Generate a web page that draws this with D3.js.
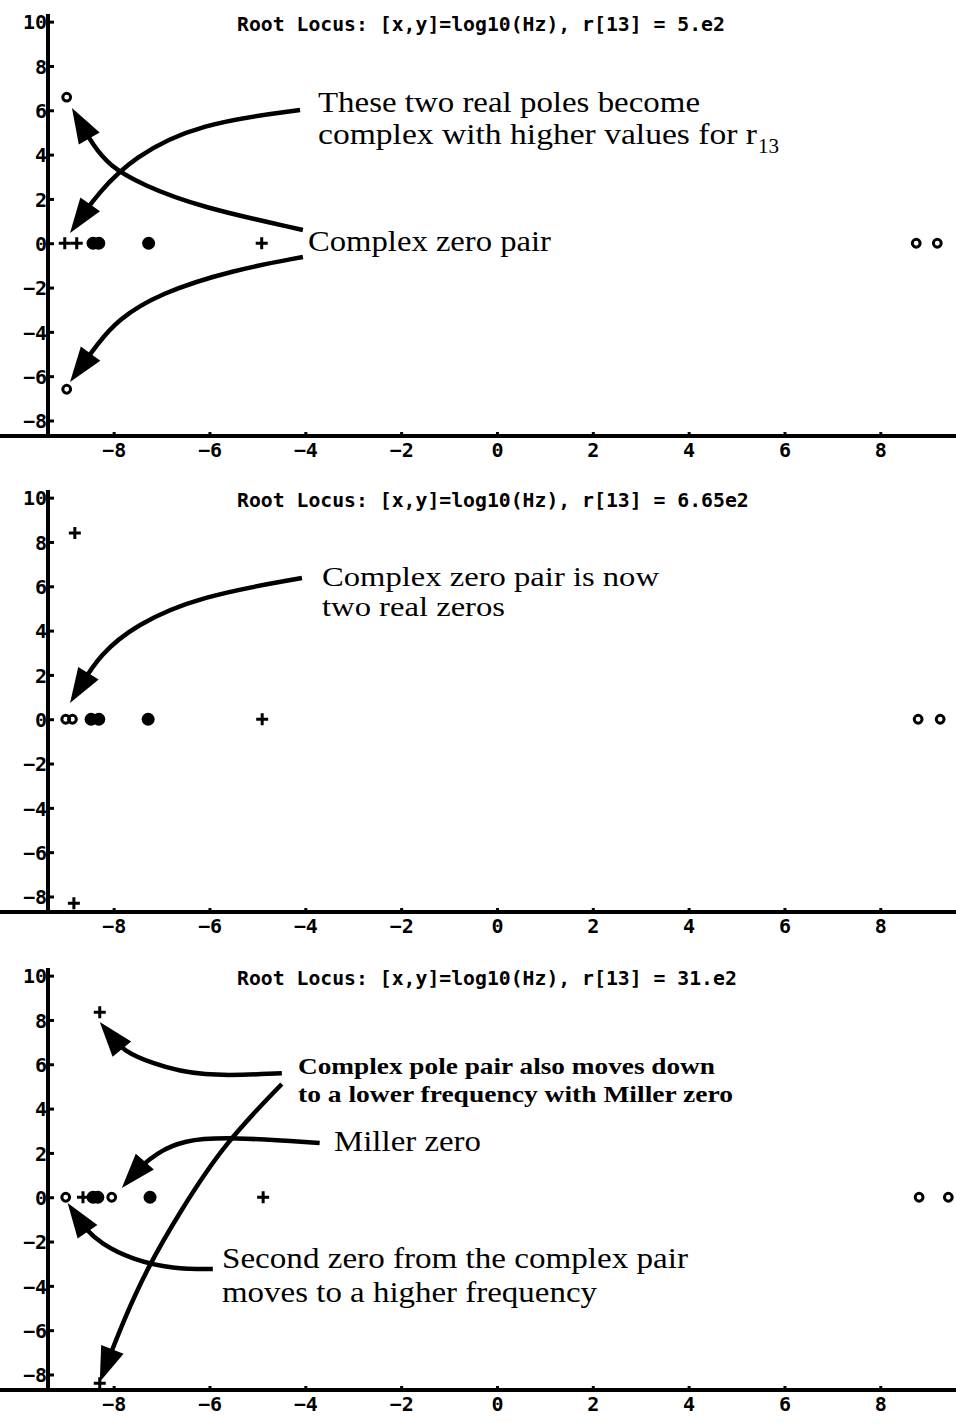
<!DOCTYPE html>
<html><head><meta charset="utf-8">
<script src="https://cdn.jsdelivr.net/npm/d3@7"></script>
<style>body{margin:0;background:#fff}svg{display:block}</style>
</head><body>
<script>
// ---- data ----
const xTicks = [-8,-6,-4,-2,0,2,4,6,8];
const yTicks = [-8,-6,-4,-2,0,2,4,6,8,10];
const titles = [
  "Root Locus: [x,y]=log10(Hz), r[13] = 5.e2",
  "Root Locus: [x,y]=log10(Hz), r[13] = 6.65e2",
  "Root Locus: [x,y]=log10(Hz), r[13] = 31.e2"
];
// poles (+), open-circle zeros, filled dots, per panel: [re, im] in log10(Hz)
const poles1 = [[-9.02,0],[-8.77,0],[-4.91,0]];
const zeros1 = [[-8.98,6.59],[-8.98,-6.59],[8.75,0],[9.19,0]];
const dots1  = [[-8.43,0],[-8.31,0],[-7.27,0]];
const poles2 = [[-8.81,8.4],[-8.83,-8.3],[-4.9,0]];
const zeros2 = [[-9.0,0],[-8.86,0],[8.79,0],[9.25,0]];
const dots2  = [[-8.47,0],[-8.31,0],[-7.28,0]];
const poles3 = [[-8.29,8.35],[-8.29,-8.39],[-8.64,0],[-4.88,0]];
const zeros3 = [[-9.0,0],[-8.04,0],[8.81,0],[9.42,0]];
const dots3  = [[-8.43,0],[-8.33,0],[-7.24,0]];
// annotation arrows (data coords, last point = tip)
const arrows1 = [
  [[-4.11,6.01],[-6.20,5.42],[-7.60,3.89],[-8.35,2.18],[-8.91,0.46]],
  [[-4.05,0.60],[-6.20,1.63],[-7.40,2.63],[-8.10,3.50],[-8.45,4.50],[-8.87,6.10]],
  [[-4.05,-0.62],[-5.51,-1.21],[-7.04,-2.25],[-7.93,-3.47],[-8.35,-4.59],[-8.91,-6.26]]
];
const arrows2 = [
  [[-4.07,6.37],[-6.20,5.56],[-7.56,4.25],[-8.29,2.90],[-8.91,0.73]]
];
const arrows3 = [
  [[-4.49,5.60],[-6.20,5.42],[-7.24,6.06],[-7.81,6.64],[-8.29,7.91]],
  [[-4.49,5.11],[-5.70,2.40],[-6.60,-0.60],[-7.30,-3.20],[-7.80,-5.60],[-8.29,-8.34]],
  [[-3.70,2.45],[-5.57,2.72],[-6.56,2.58],[-7.10,1.99],[-7.45,1.36],[-7.83,0.42]],
  [[-5.93,-3.24],[-6.76,-3.24],[-7.60,-2.83],[-8.29,-2.07],[-8.60,-1.39],[-8.96,-0.26]]
];
// annotation texts: [text, x(px), baseline(px in panel), width, size, bold]
const notes1 = [
  ["These two real poles become",318,112,382,29,false],
  ["complex with higher values for r",318,144,439,29,false],
  ["Complex zero pair",308,251,243,30,false]
];
const notes2 = [
  ["Complex zero pair is now",322,110,337,28,false],
  ["two real zeros",322,140,183,28,false]
];
const notes3 = [
  ["Complex pole pair also moves down",298,120,417,24,true],
  ["to a lower frequency with Miller zero",298,148,435,24,true],
  ["Miller zero",334,197,147,30,false],
  ["Second zero from the complex pair",222,314,466,29,false],
  ["moves to a higher frequency",222,348,375,29,false]
];
const panels = [
  {off:0,   poles:poles1, zeros:zeros1, dots:dots1, arrows:arrows1, notes:notes1, sub:true},
  {off:476, poles:poles2, zeros:zeros2, dots:dots2, arrows:arrows2, notes:notes2},
  {off:954, poles:poles3, zeros:zeros3, dots:dots3, arrows:arrows3, notes:notes3}
];

// ---- drawing ----
const W = 956, H = 1423;
const svg = d3.select("body").append("svg").attr("width",W).attr("height",H);
const x = d3.scaleLinear().domain([-9.37, 9.58]).range([48, 956]);
const y = d3.scaleLinear().domain([-8.7, 10.3]).range([436, 15]);
const mono = "'DejaVu Sans Mono', monospace";
const serif = "'Liberation Serif', 'Times New Roman', Times, serif";
const line = d3.line().x(d=>x(d[0])).y(d=>y(d[1])).curve(d3.curveBasis);

panels.forEach((p,i)=>{
  const g = svg.append("g").attr("transform",`translate(0,${p.off})`);
  // title
  g.append("text").attr("x",237).attr("y",31)
    .attr("font-family",mono).attr("font-weight","bold").attr("font-size",20)
    .attr("textLength", titles[i].length*11.9).attr("lengthAdjust","spacingAndGlyphs")
    .text(titles[i]);
  // axes
  const xa = g.append("g").attr("transform",`translate(0,${y(-8.7)})`)
    .call(d3.axisBottom(x).tickValues(xTicks).tickSize(-4).tickPadding(10).tickFormat(d3.format("d")));
  const ya = g.append("g").attr("transform",`translate(${x(-9.37)},0)`)
    .call(d3.axisLeft(y).tickValues(yTicks).tickSize(-6).tickPadding(2).tickFormat(d3.format("d")));
  [xa,ya].forEach(a=>{
    a.select(".domain").attr("stroke","#000").attr("stroke-width",4);
    a.selectAll(".tick line").attr("stroke","#000").attr("stroke-width",3);
    a.selectAll(".tick text").attr("font-family",mono).attr("font-weight","bold")
      .attr("font-size",20).attr("fill","#000");
  });
  ya.select(".domain").attr("d",`M0,${y(10.35)}V${y(-8.7)}`);
  xa.select(".domain").attr("d",`M0,0H${W}`);
  xa.selectAll(".tick text").attr("dy","0.55em");
  ya.selectAll(".tick text").attr("dy","0.36em").attr("x",-1);
  ya.selectAll(".tick line").attr("x1",-2).attr("x2",6);

  // markers
  g.selectAll(".dot").data(p.dots).join("circle")
    .attr("cx",d=>x(d[0])).attr("cy",d=>y(d[1])).attr("r",6.5).attr("fill","#000");
  g.selectAll(".zero").data(p.zeros).join("circle")
    .attr("cx",d=>x(d[0])).attr("cy",d=>y(d[1])).attr("r",3.9)
    .attr("fill","none").attr("stroke","#000").attr("stroke-width",3);
  g.selectAll(".pole").data(p.poles).join("path")
    .attr("d",d=>`M${x(d[0])-6},${y(d[1])}h12M${x(d[0])},${y(d[1])-6}v12`)
    .attr("stroke","#000").attr("stroke-width",3);

  // arrows
  p.arrows.forEach(pts=>{
    const tip = pts[pts.length-1], prev = pts[pts.length-2];
    const tx = x(tip[0]), ty = y(tip[1]);
    const px = x(prev[0]), py = y(prev[1]);
    let dx = tx-px, dy = ty-py; const L = Math.hypot(dx,dy); dx/=L; dy/=L;
    const hl = 35, hw = 12;
    const bx = tx-dx*hl, by = ty-dy*hl;
    const basePt = [x.invert(tx-dx*hl*0.6), y.invert(ty-dy*hl*0.6)];
    const body = pts.slice(0,-1).concat([basePt]);
    g.append("path").attr("d",line(body)).attr("fill","none")
      .attr("stroke","#000").attr("stroke-width",4.5).attr("stroke-linecap","butt");
    g.append("path")
      .attr("d",`M${tx},${ty}L${bx-dy*hw},${by+dx*hw}L${bx+dy*hw},${by-dx*hw}Z`)
      .attr("fill","#000");
  });

  // notes
  p.notes.forEach(n=>{
    g.append("text").attr("x",n[1]).attr("y",n[2])
      .attr("font-family",serif).attr("font-size",n[4])
      .attr("font-weight",n[5]?"bold":"normal")
      .attr("textLength",n[3]).attr("lengthAdjust","spacingAndGlyphs")
      .text(n[0]);
  });
  if(p.sub){
    g.append("text").attr("x",758).attr("y",153)
      .attr("font-family",serif).attr("font-size",21).text("13");
  }
});
</script>
</body></html>
